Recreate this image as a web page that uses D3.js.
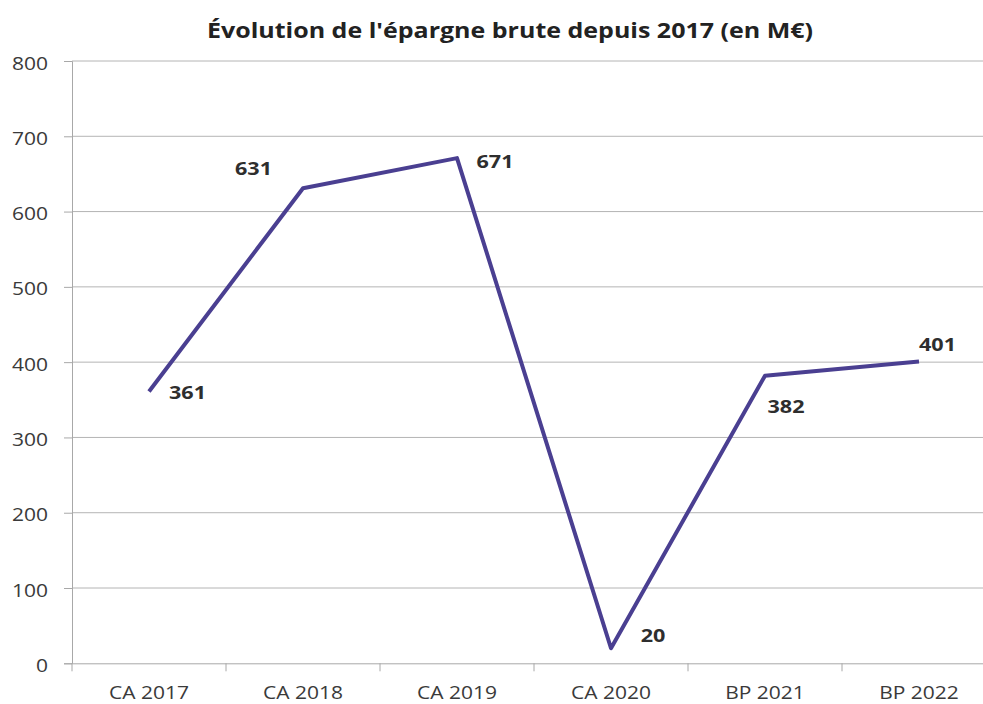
<!DOCTYPE html>
<html><head><meta charset="utf-8">
<script src="https://cdn.jsdelivr.net/npm/d3@7"></script>
<style>body{margin:0;background:#fff;}svg{display:block;}</style>
</head><body>
<svg id="chart" width="983" height="704"></svg>
<script>
const categories = ["CA 2017","CA 2018","CA 2019","CA 2020","BP 2021","BP 2022"];
const values = [361, 631, 671, 20, 382, 401];
const yTicks = [0,100,200,300,400,500,600,700,800];
const title = "Évolution de l'épargne brute depuis 2017 (en M€)";
// label offsets (style, in px)
const labelDx = [38.5, -49.5, 38, 42, 21, 18.5];
const labelDy = [1, -19.5, 3, -13, 31, -17];

(function(){
const svg = d3.select("#chart");
const mLeft = 72, mRight = 996, mTop = 61, mBottom = 663.3;
const x = d3.scaleBand().domain(categories).range([mLeft, mRight]).padding(0);
const y = d3.scaleLinear().domain([0, 800]).range([mBottom, mTop]);
const font = "'Open Sans', 'DejaVu Sans', sans-serif";
const sx = 1.2;

svg.append("text").attr("x", 207).attr("y", 38)
  .attr("font-family", font).attr("font-weight","bold").attr("font-size", 22)
  .attr("fill","#222").attr("textLength", 606).attr("lengthAdjust","spacingAndGlyphs").text(title);

// grid
svg.append("g").selectAll("line").data(yTicks.filter(d=>d>0)).join("line")
  .attr("x1", mLeft).attr("x2", mRight).attr("y1", d=>y(d)).attr("y2", d=>y(d))
  .attr("stroke","#b4b4b4").attr("stroke-width",1);

// y axis
const ya = svg.append("g").attr("transform",`translate(${mLeft},0)`)
  .call(d3.axisLeft(y).tickValues(yTicks).tickSize(8));
ya.select(".domain").attr("stroke","#a8a8a8");
ya.selectAll(".tick line").attr("stroke","#a8a8a8");
ya.selectAll("text").attr("font-family",font).attr("font-size",17.5).attr("fill","#3a3a3a")
  .attr("x", -24/sx).attr("dy","0.46em").attr("transform",`scale(${sx},1)`);

// x axis
const xa = svg.append("g").attr("transform",`translate(0,${mBottom})`)
  .call(d3.axisBottom(x).tickSize(0));
xa.select(".domain").attr("stroke","#a8a8a8");
xa.selectAll("text").attr("font-family",font).attr("font-size",17.5).attr("fill","#3a3a3a")
  .attr("y", 35.5).attr("dy","0").attr("transform",`scale(${sx},1)`);
// boundary ticks
const bounds = categories.map(c=>x(c)).concat([x(categories[categories.length-1])+x.bandwidth()]);
svg.append("g").selectAll("line").data(bounds).join("line")
  .attr("x1",d=>d).attr("x2",d=>d).attr("y1",mBottom).attr("y2",mBottom+8)
  .attr("stroke","#a8a8a8");

// line
const cx = (d,i)=>x(categories[i]) + x.bandwidth()/2;
svg.append("path").datum(values)
  .attr("d", d3.line().x((d,i)=>cx(d,i)).y(d=>y(d)))
  .attr("fill","none").attr("stroke","#4a3f91").attr("stroke-width",4).attr("stroke-linejoin","round");

// labels
svg.append("g").selectAll("text").data(values).join("text")
  .attr("x",(d,i)=>(cx(d,i)+labelDx[i])/sx).attr("y",(d,i)=>y(d)+labelDy[i])
  .attr("transform",`scale(${sx},1)`)
  .attr("dy","0.36em").attr("text-anchor","middle")
  .attr("font-family",font).attr("font-weight","bold").attr("font-size",18)
  .attr("fill","#2e2e2e").text(d=>d);
})();
</script>
</body></html>
